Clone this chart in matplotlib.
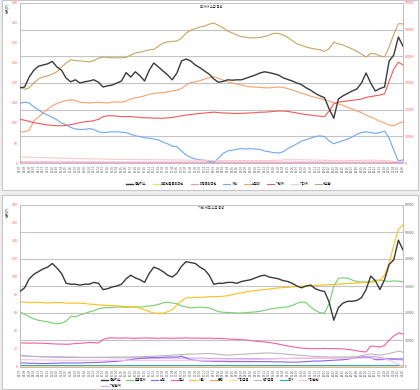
import matplotlib
matplotlib.use("Agg")
import matplotlib.pyplot as plt
from matplotlib.patches import Rectangle

plt.rcParams['font.family'] = ['Noto Sans CJK KR', 'DejaVu Sans']

# ---------------- data ----------------
years = [14, 15, 16, 17, 18, 19, 20, 21]
x_labels = [f"{y:02d}.{m:02d}" for y in years for m in range(1, 13)][6:90]

# top chart (left axis scale)
top_names = ["종합지수", "외국인등록외국인", "미등록외국인", "개인", "보험외", "기관계", "기타계", "세부합"]
top_index = [188, 190, 215, 232, 242, 245, 248, 254, 240, 232, 212, 203, 208, 200, 203, 205, 208, 202, 190, 193,
             195, 200, 205, 226, 215, 228, 218, 205, 232, 250, 240, 230, 220, 208, 225, 255, 260, 255, 245, 238,
             230, 222, 210, 202, 204, 208, 207, 208, 208, 212, 216, 220, 225, 228, 226, 223, 220, 213, 209, 205,
             200, 196, 188, 182, 174, 168, 163, 135, 112, 160, 168, 174, 180, 185, 200, 225, 200, 180, 186, 190,
             255, 270, 315, 292]
top_yellow = [1, 1, 1, 1, 1, 1, 1, 1, 1, 1, 1, 1, 1, 1, 1, 1, 1, 1, 1, 1, 1, 1, 1, 1, 1, 1, 1, 1, 1, 1,
              1, 1, 1, 1, 1, 1, 1, 1, 1, 1, 1, 1, 1, 1, 1, 1, 1, 1, 1, 1, 1, 1, 1, 1, 1, 1, 1, 1, 1, 1,
              1, 1, 1, 1, 1, 1, 1, 1, 1, 1, 1, 1, 1, 1, 1, 1, 1, 1, 1, 1, 1, 1, 1, 1]
top_magenta = [2.5, 2.5, 2.5, 2.5, 2.4, 2.4, 2.4, 2.3, 2.3, 2.3, 2.2, 2.2, 2.2, 2.2, 2.1, 2.1, 2.1, 2.1, 2, 2,
               2, 2, 2, 2, 2, 2, 2, 2, 2, 2, 2, 2, 2, 2, 2, 2, 2, 2, 2, 2, 2, 2, 2, 2, 2, 2, 2, 2, 2, 2,
               2, 2, 2, 2, 2, 2, 2, 2, 2, 2, 2, 2, 2, 2, 2, 2, 2, 2, 2, 2, 2, 2, 2, 2, 2, 2, 2, 2, 2, 2,
               1.8, 1.5, 1.2, 1.2]
top_blue = [149, 152, 150, 140, 133, 125, 120, 114, 108, 100, 95, 89, 85, 84, 84, 86, 84, 78, 76, 77,
            78, 78, 77, 76, 72, 68, 66, 63, 62, 60, 58, 52, 48, 42, 41, 30, 20, 14, 10, 8,
            7, 4, 2, 12, 24, 30, 32, 34, 36, 35, 36, 35, 34, 30, 28, 26, 25, 28, 36, 42,
            48, 55, 58, 62, 66, 68, 66, 55, 48, 52, 56, 60, 65, 72, 76, 78, 76, 74, 76, 80,
            62, 32, 5, 8]
top_orange = [78, 78, 82, 105, 115, 125, 135, 143, 149, 153, 156, 158, 156, 152, 151, 150, 151, 152, 151, 150,
              152, 153, 152, 155, 160, 163, 165, 168, 172, 174, 175, 176, 178, 180, 182, 186, 195, 201, 203, 206,
              210, 213, 216, 212, 207, 203, 200, 197, 195, 192, 190, 190, 189, 188, 188, 189, 190, 189, 186, 182,
              179, 174, 171, 167, 164, 161, 158, 155, 151, 148, 144, 139, 135, 130, 126, 120, 115, 110, 104, 100,
              95, 93, 99, 103]
top_red = [109, 107, 104, 101, 99, 97, 95, 94, 93, 93, 94, 96, 98, 101, 103, 104, 106, 109, 116, 118,
           118, 117, 116, 116, 116, 115, 114, 113, 113, 112, 112, 112, 113, 114, 116, 118, 120, 121, 123, 124,
           125, 126, 127, 126, 125, 125, 124, 124, 124, 125, 125, 126, 127, 127, 128, 129, 130, 130, 129, 127,
           125, 123, 121, 120, 118, 117, 116, 130, 148, 152, 154, 155, 157, 158, 160, 164, 166, 168, 170, 173,
           205, 235, 252, 245]
top_pale = [15, 15, 14.5, 14, 14, 13.5, 13, 13, 12.5, 12, 12, 11.5, 11, 11, 10.5, 10.5, 10, 10, 10, 9.5,
            9.5, 9, 9, 9, 9, 8.5, 8.5, 8.5, 8.5, 8, 8, 8, 8, 7.5, 7.5, 7.5, 7, 7, 7, 6.5,
            6.5, 6.5, 6, 6, 6, 6, 6, 6, 6, 6, 6, 6, 6, 6, 6, 6.5, 7, 7.5, 8, 8,
            8, 8, 8, 7.5, 7, 7, 7, 6.5, 6.5, 6.5, 6.5, 6.5, 6.5, 6.5, 6.5, 7, 7, 7, 6.5, 6,
            5, 4, 3, 3]
top_tan = [190, 184, 188, 200, 210, 215, 218, 222, 228, 240, 250, 258, 256, 255, 254, 253, 256, 262, 265, 264,
           263, 263, 263, 264, 270, 275, 277, 280, 283, 284, 292, 300, 303, 304, 305, 312, 325, 332, 336, 340,
           342, 347, 350, 344, 338, 330, 325, 320, 316, 314, 313, 313, 314, 316, 320, 324, 324, 320, 314, 306,
           298, 294, 290, 287, 285, 283, 279, 286, 302, 298, 295, 290, 285, 279, 272, 265, 274, 273, 268, 265,
           290, 322, 348, 348]

# bottom chart
bot_index = [84, 88, 98, 103, 106, 109, 111, 115, 110, 104, 93, 92, 92, 91, 92, 92, 94, 93, 86, 87,
             89, 90, 92, 98, 102, 99, 97, 94, 104, 111, 109, 106, 102, 100, 104, 112, 117, 116, 115, 111,
             108, 102, 92, 93, 93, 94, 94, 93, 95, 96, 97, 99, 101, 102, 100, 99, 98, 96, 95, 93,
             90, 88, 90, 91, 87, 85, 84, 72, 52, 66, 71, 73, 73, 74, 77, 86, 101, 96, 86, 97,
             114, 119, 141, 130]
bot_names = ["종합지수", "기관합계", "금융투자", "보험", "투신", "사모", "은행", "기타금융", "연기금등", "국가", "기타법인"]
bot_green = [20400, 19500, 18600, 17800, 17300, 17000, 16700, 16300, 16000, 16200, 17000, 18800, 18600, 19300, 19800, 20400, 20900, 21500, 21900, 22000,
             22100, 22200, 22200, 22100, 22200, 22300, 22200, 22400, 22600, 22800, 23200, 23800, 24000, 23700, 23400, 22600, 22200, 21900, 22000, 22200,
             22000, 21900, 21200, 20500, 20300, 20200, 20100, 20000, 20000, 20100, 20300, 20400, 20600, 21000, 21400, 21700, 21900, 22100, 22300, 22800,
             23600, 24100, 23800, 22200, 21000, 20100, 20000, 23500, 30000, 32800, 33000, 32900, 32200, 31600, 31500, 31500, 31600, 32100, 32200, 31900,
             31700, 31900, 31800, 31500]
bot_gold = [24100, 24000, 23800, 23900, 24000, 23800, 23700, 23800, 23900, 23800, 23700, 23600, 23700, 23600, 23500, 23300, 23200, 23000, 22900, 22800,
            22700, 22600, 22500, 22400, 22300, 22200, 21800, 21200, 20500, 20000, 19900, 19900, 20500, 21200, 23000, 24500, 25600, 25700, 25800, 25800,
            25900, 26000, 26100, 26100, 26200, 26400, 26800, 27200, 27500, 27800, 28100, 28300, 28500, 28700, 28900, 29100, 29300, 29400, 29500, 29700,
            29800, 29900, 30000, 30100, 30200, 30300, 30400, 30500, 30600, 30700, 30800, 30900, 31000, 31100, 31200, 31300, 31400, 31700, 32100, 34000,
            38500, 45200, 51000, 52600]
bot_magenta = [8900, 8900, 8800, 8900, 8800, 8800, 8700, 8600, 8500, 8500, 8400, 8500, 8700, 8800, 8900, 9100, 9000, 8900, 10200, 10700,
               10800, 10700, 10700, 10800, 10700, 10600, 10700, 10800, 10700, 10700, 10600, 10700, 10700, 10600, 10700, 10700, 10800, 10700, 10700, 10700,
               10600, 10700, 10600, 10600, 10500, 10400, 10300, 10200, 10100, 10000, 9800, 9600, 9400, 9300, 9100, 8800, 8500, 8100, 7800, 7500,
               7200, 7000, 6900, 6800, 6800, 6800, 6900, 6800, 6800, 6800, 6700, 6500, 6300, 6000, 5700, 5600, 7800, 7600, 7400, 8000,
               10000, 11500, 12600, 12200]
bot_gray = [4400, 4200, 4000, 3900, 3800, 3700, 3700, 3600, 3600, 3500, 3500, 3500, 3500, 3500, 3500, 3500, 3600, 3600, 3600, 3600,
            3700, 3700, 3700, 3700, 3700, 3800, 3800, 3900, 3900, 4000, 4100, 4200, 4300, 4400, 4500, 4600, 4700, 4800, 4800, 4900,
            5000, 5000, 4900, 4700, 4500, 4400, 4500, 4600, 4700, 4800, 4900, 5000, 5100, 5200, 5200, 5100, 5000, 4900, 4700, 4600,
            4400, 4300, 4200, 4000, 3900, 3800, 3800, 3700, 3700, 3700, 3700, 3700, 3700, 3800, 4200, 4600, 4800, 4600, 4400, 4600,
            5000, 5400, 5900, 5500]
bot_lavender = [4100, 4000, 4000, 3900, 3900, 3900, 3800, 3800, 3800, 3800, 3700, 3700, 3700, 3600, 3600, 3600, 3500, 3500, 3500, 3500,
                3400, 3400, 3400, 3400, 3400, 3400, 3300, 3300, 3300, 3300, 3300, 3300, 3300, 3300, 3300, 3300, 3300, 3300, 3300, 3300,
                3300, 3200, 3200, 3200, 3100, 3100, 3100, 3100, 3100, 3100, 3100, 3100, 3100, 3100, 3100, 3100, 3200, 3200, 3200, 3200,
                3200, 3200, 3200, 3200, 3300, 3300, 3300, 3300, 3400, 3400, 3500, 3600, 3600, 3700, 3700, 3800, 3800, 3900, 3500, 3300,
                3000, 2800, 2700, 2600]
bot_pale = [2700, 2700, 2700, 2600, 2600, 2600, 2600, 2600, 2500, 2500, 2500, 2500, 2500, 2500, 2500, 2500, 2500, 2500, 2500, 2500,
            2500, 2500, 2500, 2500, 2500, 2500, 2500, 2500, 2500, 2500, 2500, 2500, 2500, 2500, 2500, 2500, 2500, 2500, 2500, 2500,
            2500, 2500, 2500, 2500, 2500, 2600, 2600, 2600, 2700, 2700, 2700, 2800, 2800, 2900, 2900, 3000, 3000, 3100, 3100, 3200,
            3300, 3300, 3300, 3300, 3300, 3300, 3300, 3300, 3300, 3300, 3300, 3300, 3300, 3300, 3300, 3300, 3300, 3300, 3200, 3000,
            2500, 1800, 900, 300]
bot_purple = [1500, 1500, 1400, 1400, 1300, 1300, 1300, 1400, 1400, 1500, 1500, 1500, 1500, 1500, 1600, 1600, 1700, 1700, 1800, 1900,
              2000, 2100, 2300, 2500, 2700, 3000, 3200, 3300, 3400, 3500, 3500, 3600, 3700, 3700, 3700, 4000, 3400, 2700, 2500, 2300,
              2200, 2200, 2100, 2100, 2100, 2000, 2000, 2000, 2000, 2000, 2000, 2000, 2000, 2000, 2000, 1900, 1900, 1900, 1800, 1800,
              1800, 1900, 2000, 2100, 2200, 2200, 2300, 2400, 2500, 2600, 2700, 2900, 3200, 3400, 3600, 3700, 3500, 2700, 2700, 2800,
              3000, 3000, 3000, 3000]
bot_teal = [700, 700, 700, 700, 700, 700, 700, 700, 700, 700, 700, 700, 700, 700, 700, 700, 700, 700, 700, 700,
            700, 700, 700, 700, 700, 700, 700, 700, 700, 700, 700, 700, 700, 700, 700, 700, 700, 700, 700, 700,
            700, 700, 700, 700, 700, 700, 700, 700, 700, 700, 700, 700, 700, 700, 700, 700, 700, 700, 700, 700,
            700, 700, 700, 700, 700, 700, 700, 700, 700, 700, 700, 700, 700, 700, 700, 700, 700, 700, 700, 700,
            700, 700, 700, 700]
bot_orange = [400, 400, 400, 400, 400, 400, 400, 400, 400, 400, 400, 400, 400, 400, 400, 400, 400, 400, 400, 400,
              400, 400, 400, 400, 400, 400, 400, 400, 400, 400, 400, 400, 400, 400, 400, 400, 400, 400, 400, 400,
              400, 400, 400, 400, 400, 400, 400, 400, 400, 400, 400, 400, 400, 400, 400, 400, 400, 400, 400, 400,
              400, 400, 400, 400, 400, 400, 400, 400, 400, 400, 400, 400, 400, 400, 400, 400, 400, 400, 400, 400,
              400, 400, 400, 400]
bot_lyellow = [200, 200, 200, 200, 200, 200, 200, 200, 200, 200, 200, 200, 200, 200, 200, 200, 200, 200, 200, 200,
               200, 200, 200, 200, 200, 200, 200, 200, 200, 200, 200, 200, 200, 200, 200, 200, 200, 200, 200, 200,
               200, 200, 200, 200, 200, 200, 200, 200, 200, 200, 200, 200, 200, 200, 200, 200, 200, 200, 200, 200,
               200, 200, 200, 200, 200, 200, 200, 200, 200, 200, 200, 200, 200, 200, 200, 200, 200, 200, 200, 200,
               200, 200, 200, 200]

top_title = "투자자 수급 동향"
bot_title = "기관 세부 수급 동향"

# ---------------- figure ----------------
W, H = 420, 390
fig = plt.figure(figsize=(W / 100, H / 100), dpi=100)
fig.patch.set_facecolor("#eeeeee")

def fx(px):
    return px / W

def fy(py):
    return 1 - py / H

# panels
for (x0, y0, x1, y1) in [(2, 0, 418, 190), (2, 195, 418, 389)]:
    fig.patches.append(Rectangle((fx(x0), fy(y1)), fx(x1) - fx(x0), fy(y0) - fy(y1),
                                 transform=fig.transFigure, facecolor="white",
                                 edgecolor="#c8c8c8", linewidth=0.8, zorder=-5))

xs = list(range(len(top_index)))
RED = "#ff5a5a"
TICK_FS = 2.6

def style_axes(ax1, ax2, left_color, right_color):
    for ax in (ax1, ax2):
        ax.spines["top"].set_visible(False)
        for s in ("left", "right", "bottom"):
            ax.spines[s].set_color("#bdbdbd")
            ax.spines[s].set_linewidth(0.7)
        ax.tick_params(length=0, pad=1.5)
    ax1.tick_params(axis="y", labelsize=TICK_FS, labelcolor=left_color)
    ax2.tick_params(axis="y", labelsize=TICK_FS, labelcolor=right_color)
    ax1.set_xticks(xs)
    ax1.set_xticklabels(x_labels, rotation=90, fontsize=2.0, color="#555555")
    ax1.set_xlim(0, len(xs) - 1)
    ax2.yaxis.grid(True, color="#c4c4c4", linewidth=0.8)
    ax2.set_axisbelow(True)
    ax2.set_zorder(1)
    ax1.set_zorder(2)
    ax1.patch.set_visible(False)
    ax2.patch.set_visible(False)

# ---- top chart ----
axA = fig.add_axes([fx(20), fy(163), fx(403) - fx(20), fy(3) - fy(163)])
axB = axA.twinx()
axA.set_ylim(0, 400)
axA.set_yticks(range(0, 401, 50))
axB.set_ylim(0, 60000)
axB.set_yticks(range(0, 60001, 10000))
style_axes(axA, axB, RED, RED)

top_series = [
    (top_index, "#3a3a3a", 1.0),
    (top_yellow, "#ffd966", 0.8),
    (top_magenta, "#f48fc0", 0.8),
    (top_blue, "#6fa8f5", 0.8),
    (top_orange, "#f9a070", 0.8),
    (top_red, "#ee5a55", 0.8),
    (top_pale, "#f9c8cf", 0.8),
    (top_tan, "#c8a560", 0.8),
]
handles = []
for (vals, col, lw), name in zip(top_series, top_names):
    z = 5 if name == "종합지수" else 3
    h, = axA.plot(xs, vals, color=col, linewidth=lw, label=name, zorder=z)
    handles.append(h)
fig.legend(handles=handles, labels=top_names, loc="center", ncol=8,
           bbox_to_anchor=(fx(229), fy(184)), frameon=False, fontsize=2.3,
           handlelength=2.2, columnspacing=2.0, handletextpad=0.5)
axA.text(0.5, 0.985, top_title, transform=axA.transAxes, ha="center", va="top",
         fontsize=2.4, color="#333333")
fig.text(fx(7), fy(8), "단위(P)", rotation=90, fontsize=2.4, color="#444444",
         ha="center", va="center")

# ---- bottom chart ----
axC = fig.add_axes([fx(20), fy(367), fx(403) - fx(20), fy(205) - fy(367)])
axD = axC.twinx()
axC.set_ylim(0, 180)
axC.set_yticks(range(0, 181, 20))
axD.set_ylim(0, 60000)
axD.set_yticks(range(0, 60001, 10000))
style_axes(axC, axD, RED, "#666666")

hb = {}
hb["종합지수"], = axC.plot(xs, bot_index, color="#3a3a3a", linewidth=1.0, zorder=5)
bot_series = {
    "기관합계": (bot_lavender, "#c9a9f2"),
    "금융투자": (bot_green, "#72d06e"),
    "보험": (bot_purple, "#8a64f2"),
    "투신": (bot_magenta, "#f2609c"),
    "사모": (bot_gold, "#ffbf1a"),
    "은행": (bot_orange, "#f0a060"),
    "기타금융": (bot_lyellow, "#ffe08a"),
    "연기금등": (bot_gray, "#b8b8b8"),
    "국가": (bot_teal, "#3fa0c0"),
    "기타법인": (bot_pale, "#f7c0e4"),
}
for name, (vals, col) in bot_series.items():
    hb[name], = axD.plot(xs, vals, color=col, linewidth=0.8)
fig.legend(handles=[hb[n] for n in bot_names], labels=bot_names, loc="center", ncol=10,
           bbox_to_anchor=(fx(210), fy(383)), frameon=False, fontsize=2.3,
           handlelength=2.2, columnspacing=1.6, handletextpad=0.5, labelspacing=0.6)
axC.text(0.5, 0.995, bot_title, transform=axC.transAxes, ha="center", va="top",
         fontsize=2.4, color="#333333")
fig.text(fx(7), fy(212), "단위(P)", rotation=90, fontsize=2.4, color="#444444",
         ha="center", va="center")

fig.savefig("out.png", dpi=100, facecolor=fig.get_facecolor())
